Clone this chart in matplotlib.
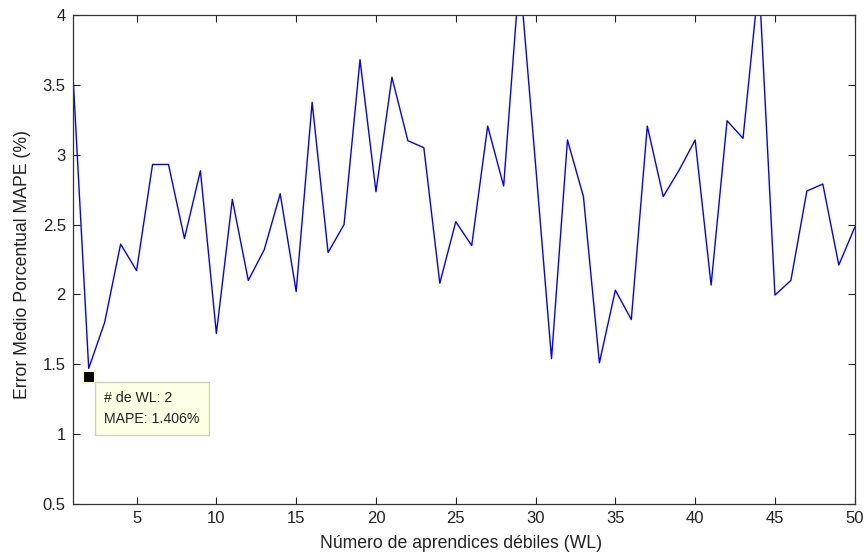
import numpy as np
import matplotlib
matplotlib.use("Agg")
import matplotlib.pyplot as plt

plt.rcParams["font.family"] = ["Liberation Sans", "DejaVu Sans"]

# number of weak learners and the MAPE (%)
n_wl = list(range(1, 51))
mape = [3.60, 1.47, 1.80, 2.36, 2.17, 2.93, 2.93, 2.40, 2.885, 1.72,
        2.68, 2.10, 2.32, 2.72, 2.02, 3.375, 2.30, 2.50, 3.68, 2.735,
        3.554, 3.10, 3.05, 2.08, 2.52, 2.35, 3.205, 2.776, 4.30, 2.93,
        1.54, 3.105, 2.70, 1.51, 2.03, 1.82, 3.205, 2.70, 2.89, 3.105,
        2.067, 3.243, 3.117, 4.25, 1.995, 2.10, 2.74, 2.79, 2.21, 2.48]

tip_x = 2
tip_y = 1.406
tip_lines = ["# de WL: 2", "MAPE: 1.406%"]

xticks = [5, 10, 15, 20, 25, 30, 35, 40, 45, 50]
yticks = [0.5, 1, 1.5, 2, 2.5, 3, 3.5, 4]
ytick_labels = ["0.5", "1", "1.5", "2", "2.5", "3", "3.5", "4"]

fig = plt.figure(figsize=(8.66, 5.55), dpi=100)
fig.patch.set_facecolor("white")
ax = fig.add_axes([0.084, 0.092, 0.903, 0.881])

ax.plot(n_wl, mape, color="#0000ff", lw=1.0, clip_on=True)

ax.set_xlim(1, 50)
ax.set_ylim(0.5, 4)
ax.set_xticks(xticks)
ax.set_yticks(yticks)
ax.set_yticklabels(ytick_labels)
ax.tick_params(direction="in", length=5, width=0.8, top=True, right=True,
               labelsize=12, colors="#222222", pad=5)
for s in ax.spines.values():
    s.set_color("#333333")
    s.set_linewidth(0.9)

ax.set_xlabel("Número de aprendices débiles (WL)", fontsize=12.7, color="#222222")
ax.set_ylabel("Error Medio Porcentual MAPE (%)", fontsize=12.7, color="#222222")
ax.xaxis.set_label_coords(0.496, -0.064)
ax.yaxis.set_label_coords(-0.053, 0.49)

# MATLAB-style data tip
ax.plot([tip_x], [tip_y], marker="s", ms=9, color="black",
        mec="#fffbd0", mew=1.5, zorder=5)
ax.annotate("\n".join(tip_lines), xy=(tip_x, tip_y), xytext=(11, -10),
            textcoords="offset points", ha="left", va="top", fontsize=10.2,
            color="#222222", linespacing=1.6,
            bbox=dict(boxstyle="square,pad=0.65", fc="#ffffe6", ec="#cfcfc0",
                      lw=1.0),
            zorder=6)

fig.savefig("out.png", dpi=100, facecolor="white")
